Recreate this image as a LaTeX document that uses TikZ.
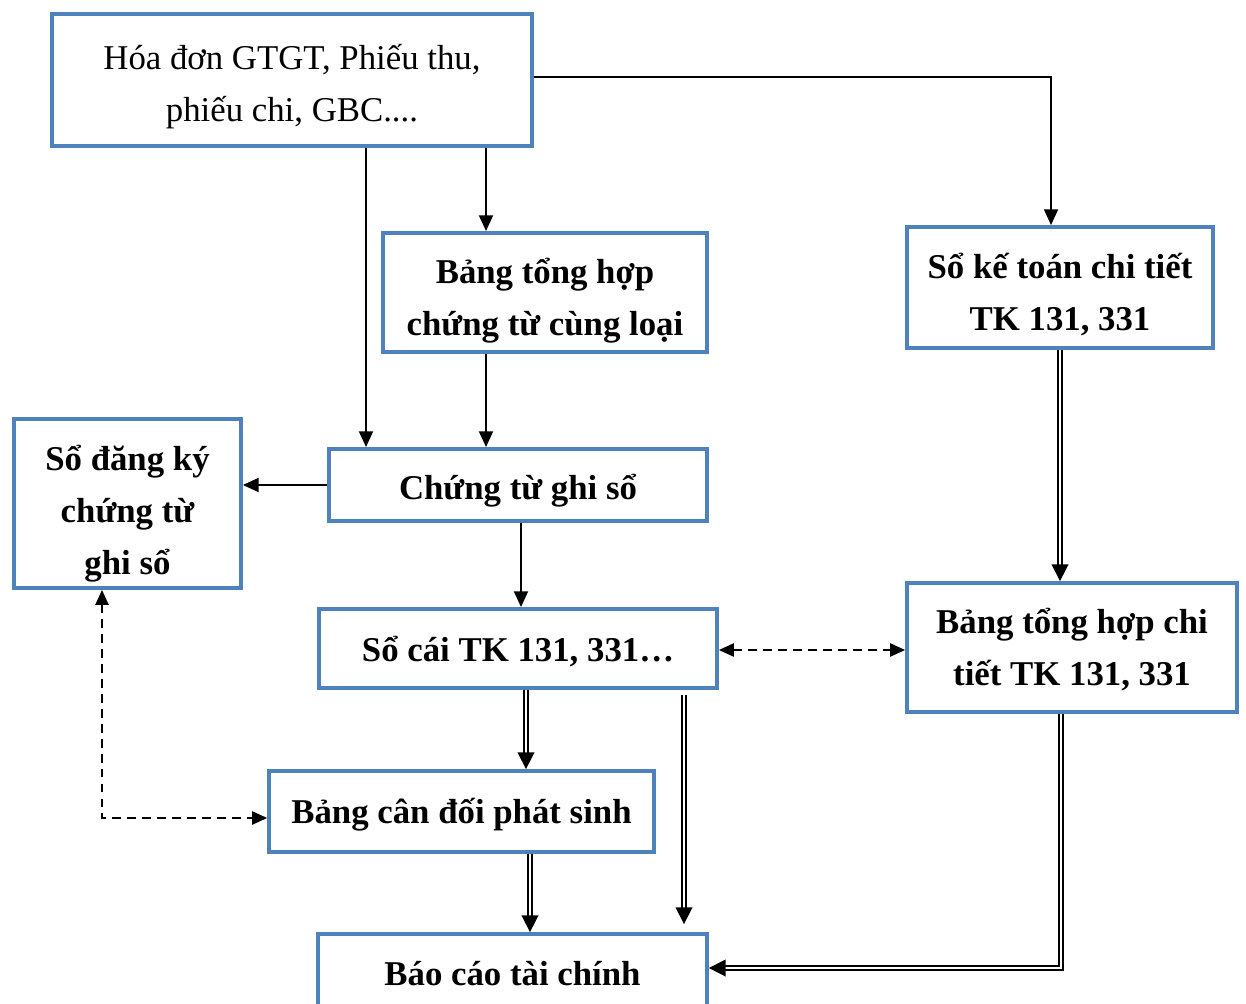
\documentclass[tikz,border=0pt]{standalone}
\usepackage{fontspec}
\setmainfont{Liberation Serif}
\usetikzlibrary{arrows.meta,calc}
\definecolor{boxblue}{HTML}{4F81BD}
% centred stack of lines, each line carried by a strut of the current leading;
% the optional argument lowers the lines without changing the box size
\newcommand{\lines}[2][0pt]{\raisebox{#1}[\height][\depth]{\begin{tabular}{@{}c@{}}#2\end{tabular}}}

\begin{document}
\begin{tikzpicture}[x=0.02cm,y=-0.02cm,
  box/.style={draw=boxblue, line width=2.2pt, fill=white, align=center,
    font=\fontsize{19.8}{29.5}\selectfont\bfseries, inner sep=0pt},
  plainbox/.style={box, font=\fontsize{19.8}{29.5}\selectfont},
  arr/.style={line width=1pt, -{Triangle[length=9pt,width=8pt]}},
  dbl/.style={double, double distance=1.6pt, line width=0.9pt,
    -{Triangle[length=9.5pt,width=9.5pt]}},
  dsh/.style={line width=1pt, dash pattern=on 5pt off 3.5pt,
    {Triangle[length=8.5pt,width=7.5pt]}-{Triangle[length=8.5pt,width=7.5pt]}}]

\useasboundingbox (0,0) rectangle (1246,1003);

% boxes
\node[plainbox, minimum width=9.6cm, minimum height=2.64cm] (A) at (292,80)
  {\lines[-2.8pt]{Hóa đơn GTGT, Phiếu thu,\\phiếu chi, GBC....}};
\node[box, minimum width=6.48cm, minimum height=2.38cm] (B) at (545,292.5)
  {\lines[-4pt]{Bảng tổng hợp\\chứng từ cùng loại}};
\node[box, minimum width=6.12cm, minimum height=2.42cm] (C) at (1060,287.5)
  {\lines[-4pt]{Sổ kế toán chi tiết\\TK 131, 331}};
\node[box, minimum width=4.54cm, minimum height=3.38cm] (D) at (127.5,503.5)
  {\lines[-5pt]{Sổ đăng ký\\chứng từ\\ghi sổ}};
\node[box, minimum width=7.56cm, minimum height=1.44cm] (E) at (518,485)
  {\lines[-2.3pt]{Chứng từ ghi sổ}};
\node[box, minimum width=7.96cm, minimum height=1.58cm] (F) at (518,648.5)
  {\lines[-1.7pt]{Sổ cái TK 131, 331…}};
\node[box, minimum width=6.6cm, minimum height=2.58cm] (G) at (1072,647.5)
  {\lines[-1.1pt]{Bảng tổng hợp chi\\tiết TK 131, 331}};
\node[box, minimum width=7.7cm, minimum height=1.62cm] (H) at (461.5,811.5)
  {\lines[-1.1pt]{Bảng cân đối phát sinh}};
\node[box, minimum width=7.78cm, minimum height=1.64cm] (I) at (512.5,975)
  {\lines{Báo cáo tài chính}};

% guide coordinates for connector columns and rows
\coordinate (x366) at (366,0);
\coordinate (x486) at (486,0);
\coordinate (x521) at (521,0);
\coordinate (x526) at (526,0);
\coordinate (x530) at (530,0);
\coordinate (x684) at (684,0);
\coordinate (x1051) at (1051,0);
\coordinate (x1060) at (1060,0);
\coordinate (x102) at (102,0);
\coordinate (y77) at (0,77);
\coordinate (y650) at (0,650);
\coordinate (y818) at (0,818);
\coordinate (y968) at (0,968);
\coordinate (bend1) at (1051,77);
\coordinate (bend2) at (1061,968);
\coordinate (bend3) at (102,818);

% single arrows
\draw[arr] (A.east |- y77) -- (bend1) -- (C.north -| x1051);
\draw[arr] (A.south -| x486) -- (B.north -| x486);
\draw[arr] (A.south -| x366) -- (E.north -| x366);
\draw[arr] (B.south -| x486) -- (E.north -| x486);
\draw[arr] (E.west) -- (D.east |- E.west);
\draw[arr] (E.south -| x521) -- (F.north -| x521);

% double arrows
\draw[dbl] (C.south -| x1060) -- (G.north -| x1060);
\draw[dbl] (F.south -| x526) -- (H.north -| x526);
\draw[dbl] ($(F.south -| x684)+(0,5)$) -- ($(I.north -| x684)+(0,-8)$);
\draw[dbl] (H.south -| x530) -- (I.north -| x530);
\draw[dbl] (G.south -| bend2) -- (bend2) -- (I.east |- y968);

% dashed two-way arrows
\draw[dsh] (F.east |- y650) -- (G.west |- y650);
\draw[dsh] (D.south -| x102) -- (bend3) -- (H.west |- y818);
\end{tikzpicture}
\end{document}
